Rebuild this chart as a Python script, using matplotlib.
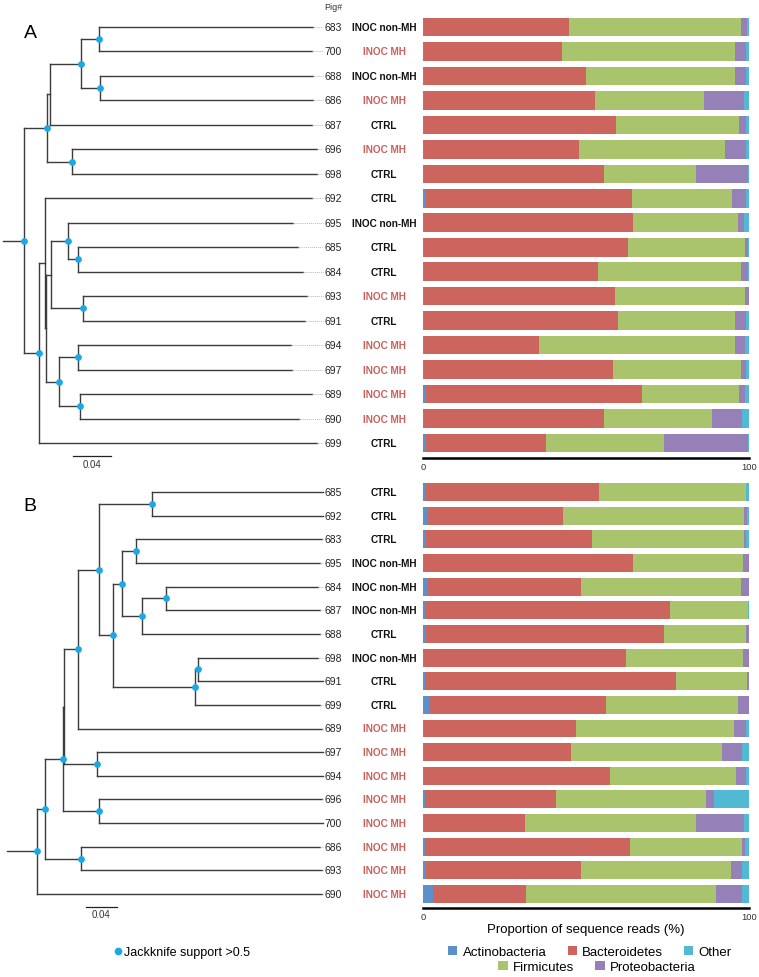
import matplotlib
matplotlib.use('Agg')
from matplotlib import pyplot as plt
from matplotlib.patches import Patch
from matplotlib.lines import Line2D

plt.rcParams['font.family'] = ['Liberation Sans', 'DejaVu Sans']

# --- data -------------------------------------------------------------
# trees (branch lengths), '*' = jackknife support > 0.5
tree_a = ("(((((683:0.2253,700:0.2242)*:0.0189,(688:0.2242,686:0.2242)*:0.0200)*:0.0326,"
          "687:0.2758):0.0032,(696:0.2579,698:0.2579)*:0.0263)*:0.0242,"
          "((692:0.2811,(((695:0.2368,(685:0.2316,684:0.2368)*:0.0105)*:0.0179,"
          "(693:0.2358,691:0.2337)*:0.0337):0.0053,((694:0.2242,697:0.2253)*:0.0200,"
          "(689:0.2442,690:0.2305)*:0.0221)*:0.0137):0.0011):0.0063,699:0.2926)*:0.0158)*:0.0221;")
tree_b = ("(((((((685:0.2206,692:0.2206)*:0.0684,(((683:0.2400,695:0.2374)*:0.0181,"
          "((684:0.1961,687:0.1987)*:0.0310,688:0.2297)*:0.0258)*:0.0116,"
          "((698:0.1548,691:0.1613)*:0.0039,699:0.1613)*:0.1058)*:0.0181)*:0.0271,"
          "689:0.3148)*:0.0181,(697:0.2916,694:0.2916)*:0.0426):0.0013,"
          "(696:0.2877,700:0.2890)*:0.0465)*:0.0232,(686:0.3084,693:0.3110)*:0.0465)*:0.0103,"
          "690:0.3677)*:0.0387;")

pigs_a = ['683', '700', '688', '686', '687', '696', '698', '692', '695',
          '685', '684', '693', '691', '694', '697', '689', '690', '699']
groups_a = ['INOC non-MH', 'INOC MH', 'INOC non-MH', 'INOC MH', 'CTRL', 'INOC MH',
            'CTRL', 'CTRL', 'INOC non-MH', 'CTRL', 'CTRL', 'INOC MH', 'CTRL',
            'INOC MH', 'INOC MH', 'INOC MH', 'INOC MH', 'CTRL']
actino_a = [0.4, 0.4, 0.4, 0.4, 0.4, 0.4, 0.4, 0.8, 0.4, 0.4, 0.4, 0.4, 0.4, 0.4, 0.4, 0.8, 0.4, 0.8]
bact_a = [44.4, 42.1, 49.7, 52.3, 58.9, 47.5, 55.0, 63.2, 64.1, 62.4, 53.2, 58.4, 59.3, 35.1, 58.0, 66.4, 55.0, 36.9]
firm_a = [52.6, 53.2, 45.6, 33.4, 37.7, 44.7, 28.4, 30.9, 32.1, 35.9, 43.8, 39.9, 36.0, 60.2, 39.0, 29.8, 33.3, 36.1]
prot_a = [2.1, 3.5, 3.5, 12.3, 2.2, 6.6, 15.9, 4.3, 1.8, 1.0, 2.3, 1.3, 3.5, 3.0, 1.8, 1.7, 9.2, 25.9]
other_a = [0.5, 0.8, 0.8, 1.6, 0.8, 0.8, 0.3, 0.8, 1.6, 0.3, 0.3, 0.0, 0.8, 1.3, 0.8, 1.3, 2.1, 0.3]

pigs_b = ['685', '692', '683', '695', '684', '687', '688', '698', '691',
          '699', '689', '697', '694', '696', '700', '686', '693', '690']
groups_b = ['CTRL', 'CTRL', 'CTRL', 'INOC non-MH', 'INOC non-MH', 'INOC non-MH', 'CTRL',
            'INOC non-MH', 'CTRL', 'CTRL', 'INOC MH', 'INOC MH', 'INOC MH', 'INOC MH',
            'INOC MH', 'INOC MH', 'INOC MH', 'INOC MH']
actino_b = [0.6, 1.5, 1.0, 0.3, 1.5, 0.5, 0.8, 0.3, 0.5, 2.0, 0.4, 0.4, 0.4, 0.7, 0.4, 0.6, 1.0, 3.1]
bact_b = [53.3, 41.5, 50.7, 64.1, 46.9, 75.2, 73.0, 61.9, 77.0, 54.0, 46.4, 45.1, 57.1, 40.0, 30.8, 62.8, 47.5, 28.6]
firm_b = [45.1, 55.6, 46.7, 33.7, 49.0, 24.1, 25.2, 36.0, 21.9, 40.6, 48.7, 46.2, 38.6, 46.2, 52.4, 34.4, 45.9, 58.3]
prot_b = [0.2, 0.8, 0.8, 1.9, 2.6, 0.0, 1.0, 1.8, 0.6, 3.3, 3.7, 6.1, 3.1, 2.3, 14.8, 0.9, 3.5, 7.9]
other_b = [0.8, 0.6, 0.8, 0.0, 0.0, 0.2, 0.0, 0.0, 0.0, 0.1, 0.8, 2.2, 0.8, 10.8, 1.6, 1.3, 2.1, 2.1]

phyla = ['Actinobacteria', 'Bacteroidetes', 'Firmicutes', 'Proteobacteria', 'Other']
colors = ['#5b90cb', '#cc655e', '#a9c46c', '#9580b7', '#52b9d5']
group_colors = {'CTRL': '#111111', 'INOC non-MH': '#111111', 'INOC MH': '#c9605a'}
dot_color = '#1aa9e6'
line_color = '#3c3c3c'

# --- helpers ----------------------------------------------------------
W, H = 759, 978


def rect(x0, y0, x1, y1):
    return [x0 / W, 1 - y1 / H, (x1 - x0) / W, (y1 - y0) / H]


def parse_newick(s):
    pos = 0

    def node():
        nonlocal pos
        children = []
        if s[pos] == '(':
            pos += 1
            children.append(node())
            while s[pos] == ',':
                pos += 1
                children.append(node())
            pos += 1
        start = pos
        while s[pos] not in ',();':
            pos += 1
        label, _, bl = s[start:pos].partition(':')
        return {'name': label, 'len': float(bl) if bl else 0.0, 'children': children}

    return node()


def layout(n, x0, leaves):
    n['x'] = x0 + n['len']
    if not n['children']:
        n['y'] = len(leaves)
        leaves.append(n)
    else:
        for c in n['children']:
            layout(c, n['x'], leaves)
        n['y'] = (n['children'][0]['y'] + n['children'][-1]['y']) / 2


def draw_tree(ax, root, leader_end):
    leaves = []
    layout(root, 0.0, leaves)
    ax.plot([0, root['x']], [root['y'], root['y']], color=line_color, lw=1.0)
    dots_x, dots_y = [], []
    stack = [root]
    while stack:
        n = stack.pop()
        if n['name'] == '*':
            dots_x.append(n['x'])
            dots_y.append(n['y'])
        if n['children']:
            ys = [c['y'] for c in n['children']]
            ax.plot([n['x'], n['x']], [min(ys), max(ys)], color=line_color, lw=1.0)
            for c in n['children']:
                ax.plot([n['x'], c['x']], [c['y'], c['y']], color=line_color, lw=1.0)
                stack.append(c)
    for lf in leaves:
        if lf['x'] < leader_end:
            ax.plot([lf['x'], leader_end], [lf['y'], lf['y']], color='#bbbbbb',
                    lw=0.7, linestyle=(0, (1, 1)))
    ax.scatter(dots_x, dots_y, s=24, color=dot_color, zorder=3, linewidths=0)


fig = plt.figure(figsize=(W / 100, H / 100), dpi=100)

panels = [
    dict(tree=tree_a, pigs=pigs_a, groups=groups_a,
         vals=[actino_a, bact_a, firm_a, prot_a, other_a],
         row0=28, step=24.47, origin=3, scale=950, bar_px=73, letter='A', lety=33),
    dict(tree=tree_b, pigs=pigs_b, groups=groups_b,
         vals=[actino_b, bact_b, firm_b, prot_b, other_b],
         row0=493, step=23.65, origin=7, scale=775, bar_px=86, letter='B', lety=507),
]

for k, p in enumerate(panels):
    top = p['row0'] - 0.6 * p['step']
    bottom = p['row0'] + 17.6 * p['step']
    n = len(p['pigs'])
    rows = list(range(n))

    # stacked bars
    axb = fig.add_axes(rect(423, top, 749, bottom))
    left = [0.0] * n
    for vals, col in zip(p['vals'], colors):
        axb.barh(rows, vals, left=left, height=0.76, color=col, linewidth=0)
        left = [a + b for a, b in zip(left, vals)]
    axb.set_xlim(0, 100)
    axb.set_ylim(17.6, -0.6)
    for s in ['left', 'top', 'right']:
        axb.spines[s].set_visible(False)
    axb.spines['bottom'].set_linewidth(1.8)
    axb.set_yticks([])
    axb.set_xticks([0, 100])
    axb.tick_params(axis='x', length=0, labelsize=6.8, pad=3, labelcolor='#333333')
    if k == 1:
        axb.set_xlabel('Proportion of sequence reads (%)', fontsize=9.5, labelpad=1)

    # tree
    o, sc = p['origin'], p['scale']
    axt = fig.add_axes(rect(0, top, 330, bottom))
    axt.set_xlim(-o / sc, (330 - o) / sc)
    axt.set_ylim(17.6, -0.6)
    axt.axis('off')
    draw_tree(axt, parse_newick(p['tree']), (323 - o) / sc)

    for i, (pig, grp) in enumerate(zip(p['pigs'], p['groups'])):
        axt.text((342 - o) / sc, i, pig, ha='right', va='center', fontsize=7.5,
                 color='#222222', clip_on=False)
        axt.text((384 - o) / sc, i, grp, ha='center', va='center', fontsize=7.2,
                 fontweight='bold', color=group_colors[grp], clip_on=False)

    # scale bar
    sb_y = 17.53
    x0 = (p['bar_px'] - o) / sc
    axt.plot([x0, x0 + 0.04], [sb_y, sb_y], color='#222222', lw=0.9, clip_on=False)
    axt.text(x0 + 0.02, sb_y + 0.12, '0.04', ha='center', va='top', fontsize=7,
             color='#333333', clip_on=False)

    fig.text(30 / W, 1 - p['lety'] / H, p['letter'], ha='center', va='center', fontsize=14)

fig.text(333 / W, 1 - 8 / H, 'Pig#', ha='center', va='center', fontsize=6.5, color='#333333')

# legends
h1 = [Patch(facecolor=colors[i], label=phyla[i]) for i in (0, 1, 4)]
h2 = [Patch(facecolor=colors[i], label=phyla[i]) for i in (2, 3)]
fig.legend(handles=h1, loc='center', bbox_to_anchor=(590 / W, 1 - 953 / H), ncol=3,
           frameon=False, fontsize=9.5, handlelength=0.7, handleheight=0.7,
           handletextpad=0.4, columnspacing=1.6, borderpad=0, borderaxespad=0)
fig.legend(handles=h2, loc='center', bbox_to_anchor=(597 / W, 1 - 968 / H), ncol=2,
           frameon=False, fontsize=9.5, handlelength=0.7, handleheight=0.7,
           handletextpad=0.4, columnspacing=1.6, borderpad=0, borderaxespad=0)
jk = [Line2D([], [], marker='o', linestyle='none', color=dot_color, markersize=4.5,
             label='Jackknife support >0.5')]
fig.legend(handles=jk, loc='center left', bbox_to_anchor=(114 / W, 1 - 953 / H),
           frameon=False, fontsize=9, handlelength=0.6, handletextpad=0.2,
           borderpad=0, borderaxespad=0)

fig.savefig('out.png', dpi=100)
